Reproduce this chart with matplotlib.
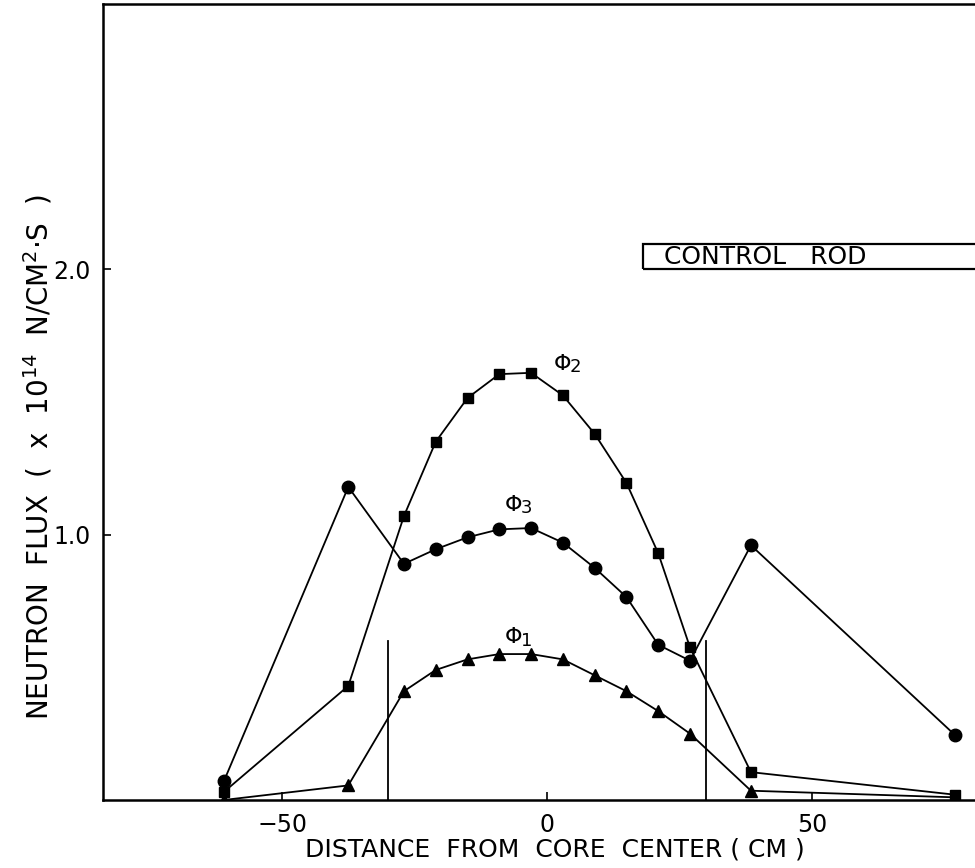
import matplotlib
matplotlib.use("Agg")
import matplotlib.pyplot as plt
from matplotlib.patches import Rectangle

plt.rcParams['font.family'] = ['DejaVu Sans']

# Measurement positions (cm from core center)
x_outer_left = [-61, -37.5]
x_core = [-27, -21, -15, -9, -3, 3, 9, 15, 21, 27]
x_outer_right = [38.5, 77]
positions = x_outer_left + x_core + x_outer_right

# Neutron flux groups (x 10^14 n/cm^2.s)
phi1 = [0.00, 0.055, 0.41, 0.49, 0.53, 0.55, 0.55, 0.53, 0.47, 0.41, 0.335, 0.25, 0.035, 0.01]
phi2 = [0.03, 0.43, 1.07, 1.35, 1.515, 1.605, 1.61, 1.525, 1.38, 1.195, 0.93, 0.575, 0.105, 0.02]
phi3 = [0.07, 1.18, 0.89, 0.945, 0.99, 1.02, 1.025, 0.97, 0.875, 0.765, 0.585, 0.525, 0.96, 0.245]

rod_edges = [-30, 30]
rod_height = 0.6

xticks = [-50, 0, 50]
xtick_labels = ['−50', '0', '50']
yticks = [1.0, 2.0]
ytick_labels = ['1.0', '2.0']

fig = plt.figure(figsize=(9.75, 8.68), dpi=100)
ax = fig.add_axes([103 / 975, 68 / 868, 889 / 975, 796 / 868])

line_kw = dict(color='black', lw=1.3)
ax.plot(positions, phi2, marker='s', ms=7, **line_kw)
ax.plot(positions, phi3, marker='o', ms=9, **line_kw)
ax.plot(positions, phi1, marker='^', ms=8.5, **line_kw)

for xe in rod_edges:
    ax.plot([xe, xe], [0, rod_height], color='black', lw=1.3)


def phi_label(x, y, digit):
    ax.text(x, y, 'Φ', fontsize=16, ha='left', va='bottom')
    ax.annotate(digit, (x, y), xytext=(11.5, -1.5), textcoords='offset points',
                fontsize=13, ha='left', va='bottom')


phi_label(1.2, 1.605, '2')
phi_label(-8.0, 1.075, '3')
phi_label(-8.0, 0.575, '1')

# control rod legend box
ax.add_patch(Rectangle((18.1, 2.0), 80, 0.095, fill=False, lw=1.6,
                       edgecolor='black', clip_on=False))
ax.text(22.0, 2.047, 'CONTROL   ROD', fontsize=18, ha='left', va='center')

ax.set_xlim(-83.8, 84)
ax.set_ylim(0, 3.0)
ax.set_xticks(xticks)
ax.set_xticklabels(xtick_labels, fontsize=17)
ax.set_yticks(yticks)
ax.set_yticklabels(ytick_labels, fontsize=17)
ax.tick_params(direction='in', length=6, width=1.2, pad=9)

for s in ax.spines.values():
    s.set_linewidth(1.8)

fig.text(555 / 975, 1 - 849 / 868, 'DISTANCE  FROM  CORE  CENTER ( CM )',
         fontsize=18, ha='center', va='center')
fig.text(38 / 975, 1 - 457 / 868,
         'NEUTRON  FLUX  (  x  10$^{14}$  N/CM$^{2}$·S  )',
         fontsize=20, rotation=90, ha='center', va='center')

fig.savefig('out.png', dpi=100)
